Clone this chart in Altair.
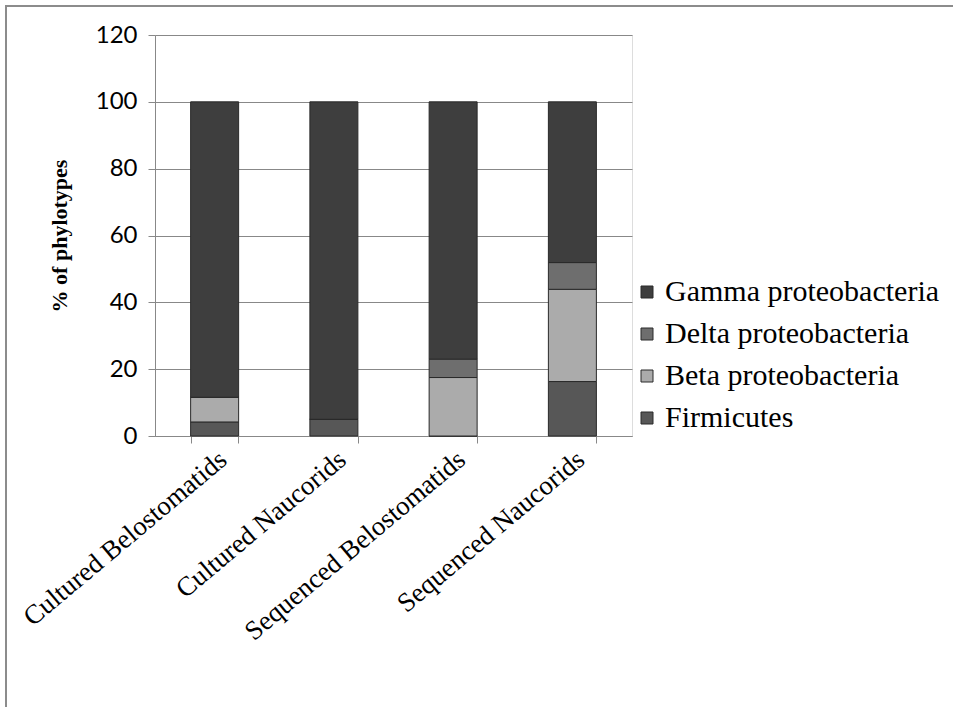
import altair as alt
import pandas as pd

# Percentage of phylotypes per sample group and bacterial class
groups = ["Cultured Belostomatids", "Cultured Naucorids",
          "Sequenced Belostomatids", "Sequenced Naucorids"]
firmicutes = [4.2, 5.0, 0.0, 16.3]
beta = [7.4, 0.0, 17.5, 27.6]
delta = [0.0, 0.0, 5.5, 8.0]
gamma = [88.4, 95.0, 77.0, 48.1]

classes = ["Firmicutes", "Beta proteobacteria", "Delta proteobacteria", "Gamma proteobacteria"]
series = [firmicutes, beta, delta, gamma]
colors = ["#575757", "#ababab", "#6e6e6e", "#3e3e3e"]

rows = []
for ci, (cls, vals) in enumerate(zip(classes, series)):
    for g, v in zip(groups, vals):
        rows.append({"group": g, "cls": cls, "value": v, "stack": ci})
df = pd.DataFrame(rows)

serif = "Liberation Serif"
sans = "Lato"

bars = alt.Chart(df).mark_bar(size=48, stroke="#2a2a2a", strokeWidth=1).encode(
    x=alt.X("group:N", sort=groups, title=None,
            scale=alt.Scale(paddingInner=0.6, paddingOuter=0.3),
            axis=alt.Axis(labelAngle=-40, labelFont=serif, labelFontSize=27,
                          labelColor="black", tickBand="extent", tickSize=7,
                          tickColor="#888888", domainColor="#888888",
                          labelPadding=3, grid=False, labelLimit=500)),
    y=alt.Y("value:Q", stack="zero", title="% of phylotypes",
            scale=alt.Scale(domain=[0, 120]),
            axis=alt.Axis(values=[0, 20, 40, 60, 80, 100, 120], labelFont=sans,
                          labelFontSize=24, labelColor="black", tickSize=7,
                          tickColor="#888888", domainColor="#888888",
                          gridColor="#888888", gridWidth=1.2,
                          titleFont=serif, titleFontSize=22, titleFontWeight="bold",
                          titleColor="black", titlePadding=24, labelPadding=11)),
    color=alt.Color("cls:N", sort=classes[::-1],
                    scale=alt.Scale(domain=classes[::-1], range=colors[::-1]),
                    legend=alt.Legend(title=None, orient="none", legendX=477, legendY=242,
                                      labelFont=serif, labelFontSize=30, labelColor="black",
                                      symbolType="square", symbolSize=144,
                                      symbolStrokeColor="#2a2a2a", symbolStrokeWidth=1,
                                      rowPadding=12, labelOffset=3, labelLimit=500)),
    order=alt.Order("stack:Q", sort="ascending"),
)

frame = alt.Chart(pd.DataFrame({"k": [0]})).mark_rect(
    fill=None, stroke="#8c8c8c", strokeWidth=2
).encode(
    x=alt.value(-149), x2=alt.value(1000),
    y=alt.value(-29), y2=alt.value(800),
)

chart = alt.layer(frame, bars).properties(
    width=477, height=401,
    padding={"left": 155, "top": 35, "right": 321, "bottom": 271},
    autosize=alt.AutoSizeParams(type="none"),
).configure_view(stroke=None).configure(background="white")

chart.save("out.html", embed_options={"renderer": "svg", "actions": False})
